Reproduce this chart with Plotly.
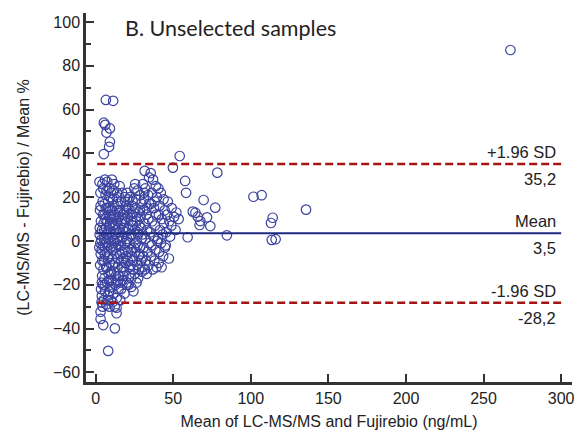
import plotly.graph_objects as go

# --- data ---
upper_loa = 35.2
mean_diff = 3.5
lower_loa = -28.2
loa_labels = ["+1.96 SD", "Mean", "-1.96 SD"]
loa_values_text = ["35,2", "3,5", "-28,2"]

pts = [
 # x 2-5
 (2.5,27),(3.1,22),(2.8,14),(3.4,9),(2.6,3),(3.0,-1),(3.3,-6),(2.9,-11),(4.2,-16),(4.0,-25),(3.8,-28),(4.5,18),(4.8,12),(4.1,5),(4.6,-2),(4.3,-9),(5.0,-13),(4.7,-20),(3.6,0.5),(4.9,24),(2.7,6),(3.9,-4),(5.2,-27),(4.4,26),(3.2,16),(5.1,8),(4.0,-19),(2.4,-3),(5.3,1),(3.5,-22),
 # x 5-10
 (6.0,28),(7.5,27),(8.8,24),(6.4,21),(9.2,20),(5.8,17),(7.7,15),(8.5,12),(6.2,10),(9.6,8),(5.6,5),(7.2,3),(8.9,1),(6.6,-1),(9.9,-3),(5.9,-6),(7.9,-8),(9.1,-10),(6.8,-12),(8.3,-15),(5.7,-17),(7.4,-19),(9.4,-21),(6.1,-23),(8.0,-25),(9.7,-27),(6.9,-29),(8.6,-18),(7.1,-5),(9.3,14),(6.7,6),(8.1,18),(5.5,-9),(9.8,-14),(7.6,9),(8.4,-2),(6.3,1),(9.0,4),(7.0,23),(5.9,-20),(8.7,-23),(7.3,-12),(9.5,11),(6.5,15),(8.2,-7),(5.8,12),(9.9,22),(7.8,-27),(6.0,-3),(8.9,7),
 # x 10-15
 (10.5,28),(12.0,26),(13.8,22),(11.2,19),(14.5,17),(10.8,14),(12.7,12),(14.0,9),(11.5,7),(13.2,5),(10.3,2),(12.2,0),(14.7,-2),(11.0,-4),(13.5,-6),(10.7,-8),(12.5,-10),(14.2,-12),(11.8,-14),(13.0,-16),(10.2,-18),(12.9,-20),(14.8,-22),(11.4,-24),(13.6,-26),(10.9,-28),(12.3,-30),(14.9,6),(11.7,23),(13.9,14),(10.4,10),(12.6,3),(14.4,-8),(11.1,-11),(13.3,-19),(10.6,-21),(12.1,16),(14.1,20),(11.9,-1),(13.7,1),(10.1,-15),(12.8,8),(14.6,-16),(11.3,11),(13.1,-3),
 # x 15-20
 (15.5,25),(17.0,22),(18.8,20),(16.2,18),(19.5,16),(15.8,14),(17.6,12),(19.0,10),(16.5,8),(18.2,6),(15.3,4),(17.3,2),(19.7,0),(16.0,-2),(18.5,-4),(15.7,-6),(17.8,-8),(19.2,-10),(16.8,-12),(18.0,-14),(15.2,-16),(17.4,-18),(19.8,-20),(16.4,-22),(18.6,-24),(15.9,-27),(17.1,9),(19.4,4),(16.9,-5),(18.3,13),(15.6,0),(17.9,-16),(19.1,18),(16.6,-9),(18.9,-1),(15.1,11),(17.5,5),(19.6,-7),(16.1,-19),(18.1,-12),
 # x 20-25
 (20.5,22),(22.0,20),(23.8,18),(21.2,15),(24.5,13),(20.8,11),(22.7,9),(24.0,7),(21.5,5),(23.2,3),(20.3,1),(22.2,-1),(24.7,-3),(21.0,-5),(23.5,-7),(20.7,-9),(22.5,-11),(24.2,-13),(21.8,-15),(23.0,-17),(20.2,-19),(22.9,-21),(24.4,-23),(21.4,-20),(23.6,16),(20.9,6),(22.4,12),(24.9,24),(21.7,-12),(23.3,-4),(20.1,14),(22.8,2),(24.1,-9),(21.1,19),(23.9,9),
 # x 25-30
 (25.5,26),(27.0,23),(28.8,21),(26.2,19),(29.5,17),(25.8,15),(27.6,13),(29.0,11),(26.5,9),(28.2,7),(25.3,5),(27.3,3),(29.7,1),(26.0,-1),(28.5,-3),(25.7,-5),(27.8,-7),(29.2,-9),(26.8,-11),(28.0,-13),(25.2,-15),(27.4,-17),(29.8,-14),(26.4,-19),(28.6,14),(25.9,11),(27.1,-2),(29.4,6),(26.9,4),(28.3,-6),
 # x 30-35
 (31.6,32),(30.5,26),(32.0,24),(33.8,21),(31.2,19),(34.5,17),(30.8,14),(32.7,12),(34.0,10),(31.5,8),(33.2,5),(30.3,3),(32.2,1),(34.7,-1),(31.0,-3),(33.5,-5),(30.7,-7),(32.5,-9),(34.2,-11),(31.8,-13),(33.0,-15),(30.2,-12),(32.9,15),(34.4,29),(31.3,22),
 # x 35-40
 (35.5,31),(37.0,28),(38.8,25),(36.2,22),(39.5,20),(35.8,17),(37.6,15),(39.0,12),(36.5,9),(38.2,7),(35.3,4),(37.3,2),(39.7,0),(36.0,-2),(38.5,-4),(35.7,-7),(37.8,-9),(39.2,-12),(36.8,-13),(38.0,18),
 # x 40-55
 (40.5,24),(42.0,22),(43.8,19),(41.2,16),(44.5,14),(40.8,12),(42.7,10),(44.0,8),(41.5,5),(43.2,3),(40.3,1),(42.2,-1),(44.7,-3),(41.0,-5),(43.5,-7),(40.7,-10),(42.5,-12),(46.0,12),(47.5,9),(45.5,4),(48.0,2),(47.2,-8),(46.5,18),(49.0,15),(45.2,-2),(48.8,7),(50.5,11),(52.0,13),(53.5,10),(51.5,5),
 (49.8,33.5),(54.2,38.8),(57.7,27.4),(58.3,22),(59.3,1.7),(62.6,13.4),
 # sparse right
 (64.3,12.9),(65.8,11.1),(67.5,9.1),(67.0,7.3),(71.8,10.8),(73.9,6.8),(69.6,18.7),(77.1,15.2),(78.4,31.2),
 (84.6,2.6),(101.7,20.2),(107.0,20.9),(114.1,10.6),(113.0,8.2),(113.5,0.5),(116.0,0.8),(135.6,14.3),(267.3,87.2),
 # high / low outliers at small means
 (6.6,64.4),(11.3,64.0),(5.3,54.0),(6.2,53.0),(9.2,51.4),(7.0,49.5),(9.2,45.3),(8.7,43.0),(5.3,39.7),
 (3.2,-35.6),(4.9,-38.4),(12.4,-39.9),(8.1,-50.2),(3.2,-32.3),(4.5,-30.0),(9.0,-30.0),(13.5,-33.0),(13.5,-30.5),
]
mean_x = [p[0] for p in pts]
pct_diff = [p[1] for p in pts]

x_ticks = [0, 50, 100, 150, 200, 250, 300]
y_ticks = [-60, -40, -20, 0, 20, 40, 60, 80, 100]

fig = go.Figure()
fig.add_trace(go.Scatter(
    x=mean_x, y=pct_diff, mode="markers",
    marker=dict(symbol="circle-open", size=9.5, color="#3b43a0", line=dict(width=1.2)),
    showlegend=False, hoverinfo="skip"))

line_x0, line_x1 = 1, 300
fig.add_shape(type="line", xref="x", yref="y", x0=line_x0, x1=line_x1, y0=upper_loa, y1=upper_loa,
              line=dict(color="#a31515", width=2.5, dash="8px,4px"))
fig.add_shape(type="line", xref="x", yref="y", x0=line_x0, x1=line_x1, y0=lower_loa, y1=lower_loa,
              line=dict(color="#a31515", width=2.5, dash="8px,4px"))
fig.add_shape(type="line", xref="x", yref="y", x0=0, x1=line_x1, y0=mean_diff, y1=mean_diff,
              line=dict(color="#1c2a80", width=2))

lab_font = dict(family="Liberation Sans, Arial", size=16.5, color="#222")
for lab, txt, val in zip(loa_labels, loa_values_text, [upper_loa, mean_diff, lower_loa]):
    fig.add_annotation(x=298, y=val, xref="x", yref="y", text=lab, showarrow=False,
                       xanchor="right", yanchor="middle", yshift=12, font=lab_font)
    fig.add_annotation(x=298, y=val, xref="x", yref="y", text=txt, showarrow=False,
                       xanchor="right", yanchor="middle", yshift=-15, font=lab_font)

fig.add_annotation(x=(123 - 86) / 489, y=(382 - 28) / 369, xref="paper", yref="paper",
                   text="B. Unselected samples", showarrow=False, xanchor="left", yanchor="middle",
                   font=dict(family="Lato, Open Sans", size=21.5, color="#222"))

axis_font = dict(family="Liberation Sans, Arial", size=16, color="#222")
axis_common = dict(showline=True, linecolor="#333", linewidth=2.5, ticks="inside", ticklen=8,
                   tickwidth=2, tickcolor="#333", showgrid=False, zeroline=False,
                   tickfont=axis_font, mirror=False)
fig.update_xaxes(range=[-6.2, 307], tickvals=x_ticks, **axis_common,
                 title=dict(text="Mean of LC-MS/MS and Fujirebio (ng/mL)", standoff=10, font=axis_font))
fig.update_yaxes(range=[-64.4, 104.1], tickvals=y_ticks, **axis_common,
                 minor=dict(tickvals=[-50, -30, -10, 10, 30, 50, 70, 90], ticks="inside", ticklen=5,
                            tickwidth=2, tickcolor="#333"),
                 title=dict(text="(LC-MS/MS - Fujirebio) / Mean %", standoff=20, font=axis_font))

fig.update_layout(width=580, height=435, margin=dict(l=86, r=5, t=13, b=53),
                  paper_bgcolor="white", plot_bgcolor="white")
fig.write_html("out.html")
